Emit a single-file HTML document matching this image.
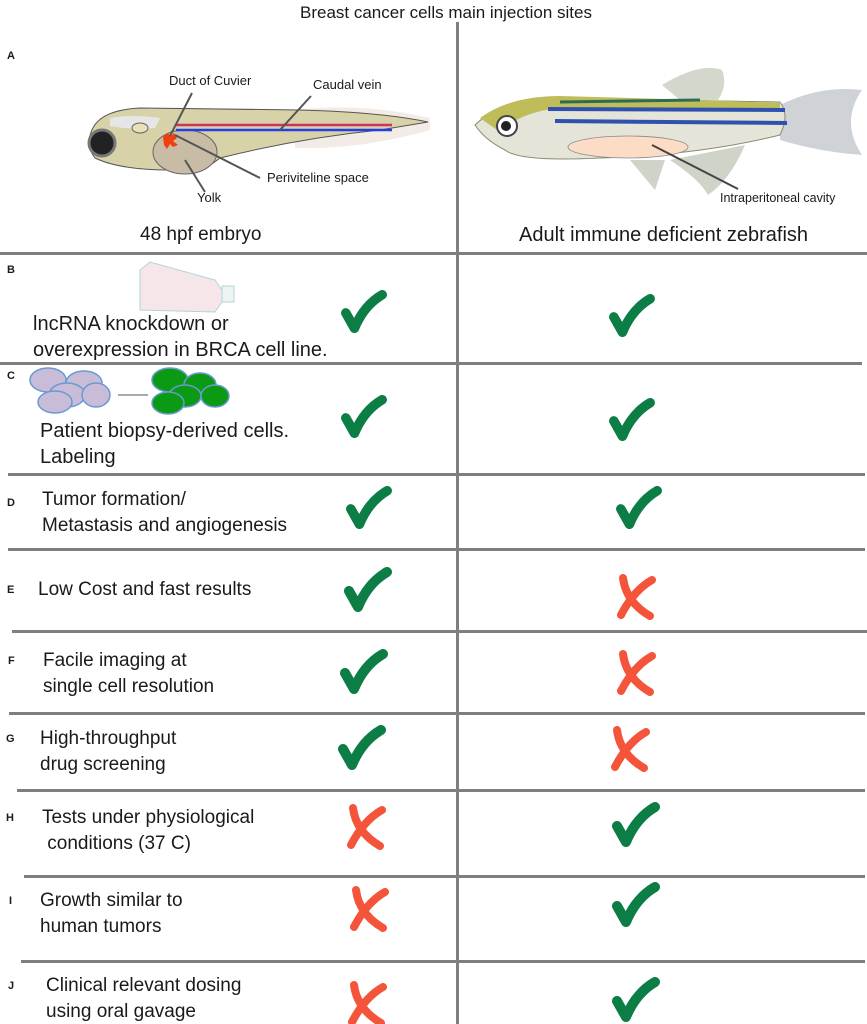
<!DOCTYPE html>
<html><head><meta charset="utf-8">
<style>
body{margin:0;background:#fff;}
#c{position:relative;width:867px;height:1024px;overflow:hidden;font-family:"Liberation Sans",sans-serif;color:#1a1a1a;}
.t{position:absolute;white-space:nowrap;font-size:19px;line-height:26px;}
.b{font-size:20px;}
.l{position:absolute;font-weight:bold;font-size:11px;}
.s{position:absolute;white-space:nowrap;font-size:13px;}
.h{position:absolute;background:#7f7f7f;height:3px;}
svg{position:absolute;left:0;top:0;}
</style></head><body><div id="c">
<svg width="867" height="1024" viewBox="0 0 867 1024">
<defs>
<symbol id="ck" viewBox="0 0 48 46"><path d="M5 24 L14 40 Q24 16 43 5" fill="none" stroke="#0b7d45" stroke-width="10" stroke-linecap="round" stroke-linejoin="round"/></symbol>
<symbol id="x" viewBox="0 0 40 46"><path d="M7 4 Q10 28 34 42 M36 6 Q18 16 5 41" fill="none" stroke="#f4553a" stroke-width="8" stroke-linecap="round"/></symbol>
</defs>
<rect x="456" y="22" width="3" height="1002" fill="#7f7f7f"/>
<!-- embryo -->
<path d="M295 110 Q360 102 430 118 L430 130 Q360 150 295 148 Z" fill="#f3ece6"/>
<path d="M92 130 Q100 110 140 108 L300 110 Q380 112 428 122 L380 130 Q300 138 220 158 Q200 175 170 170 Q120 170 95 158 Q85 145 92 130Z" fill="#d8d2a8" stroke="#555" stroke-width="1"/>
<ellipse cx="185" cy="152" rx="32" ry="22" fill="#c8bca6" stroke="#666" stroke-width="1"/>
<path d="M110 118 Q130 114 160 118 L155 128 Q130 130 110 126Z" fill="#e6e6e6"/>
<ellipse cx="140" cy="128" rx="8" ry="5" fill="#e8e0b8" stroke="#666"/>
<circle cx="102" cy="143" r="13" fill="#222" stroke="#777" stroke-width="3"/>
<line x1="176" y1="125" x2="392" y2="125" stroke="#d0306a" stroke-width="2.5"/>
<line x1="176" y1="130" x2="392" y2="130" stroke="#2040e0" stroke-width="2.5"/>
<path d="M163 137 l4 -4 l4 3 l3 -3 l3 5 l-4 3 l5 4 l-5 2 l-3 -3 l-3 5 l-3 -4 Z" fill="#f04010"/>
<g stroke="#555" stroke-width="2">
<line x1="192" y1="93" x2="170" y2="136"/>
<line x1="311" y1="96" x2="280" y2="130"/>
<line x1="175" y1="135" x2="260" y2="178"/>
<line x1="185" y1="160" x2="205" y2="192"/>
</g>
<!-- adult fish -->
<path d="M662 85 Q700 62 722 70 Q728 85 718 100 L680 100Z" fill="#d4d8cc"/>
<path d="M780 105 Q820 85 862 90 Q840 122 862 155 Q820 152 780 140Z" fill="#cfd3d8"/>
<path d="M630 160 Q645 178 655 190 L665 160Z" fill="#cfd3c8"/>
<path d="M670 160 Q700 180 708 195 Q730 180 745 145Z" fill="#d0d4c8"/>
<path d="M475 125 Q500 100 560 98 L780 102 Q790 115 780 135 Q700 155 600 158 Q520 162 505 150 Q485 140 475 125Z" fill="#e4e4d8" stroke="#8a8a70" stroke-width="1"/>
<path d="M480 118 Q510 96 560 96 L700 100 L780 103 L780 110 L560 108 Q520 112 500 132 Z" fill="#bfbd5a"/>
<line x1="548" y1="109" x2="785" y2="110" stroke="#3050b0" stroke-width="4"/>
<line x1="555" y1="121" x2="787" y2="123" stroke="#3050b0" stroke-width="4"/>
<line x1="560" y1="102" x2="700" y2="100" stroke="#2e6b55" stroke-width="3"/>
<ellipse cx="628" cy="147" rx="60" ry="11" fill="#fcdcc4" stroke="#888" stroke-width="0.8"/>
<circle cx="507" cy="126" r="10" fill="#fff" stroke="#444" stroke-width="2"/>
<circle cx="506" cy="126" r="5" fill="#222"/>
<line x1="652" y1="145" x2="738" y2="189" stroke="#444" stroke-width="2"/>
<!-- flask -->
<path d="M140 270 L150 262 L215 280 L222 290 L222 302 L215 312 L140 310Z" fill="#f6e6ea" stroke="#b0d4d8"/>
<rect x="222" y="286" width="12" height="16" fill="#eef4f4" stroke="#b0d4d8"/>
<!-- cells -->
<g fill="#c8bcd8" stroke="#6a9ad0" stroke-width="1.5">
<ellipse cx="48" cy="380" rx="18" ry="12"/><ellipse cx="84" cy="383" rx="18" ry="12"/>
<ellipse cx="67" cy="395" rx="18" ry="12"/><ellipse cx="96" cy="395" rx="14" ry="12"/>
<ellipse cx="55" cy="402" rx="17" ry="11"/>
</g>
<line x1="118" y1="395" x2="148" y2="395" stroke="#aaa" stroke-width="2"/>
<g fill="#0a9a14" stroke="#6a9ad0" stroke-width="1.5">
<ellipse cx="170" cy="380" rx="18" ry="12"/><ellipse cx="200" cy="385" rx="16" ry="12"/>
<ellipse cx="185" cy="396" rx="16" ry="11"/><ellipse cx="215" cy="396" rx="14" ry="11"/>
<ellipse cx="168" cy="403" rx="16" ry="11"/>
</g>
<!-- checks / crosses -->
<use href="#ck" x="340" y="290" width="48" height="44"/>
<use href="#ck" x="608" y="294" width="48" height="44"/>
<use href="#ck" x="340" y="395" width="48" height="44"/>
<use href="#ck" x="608" y="398" width="48" height="44"/>
<use href="#ck" x="345" y="486" width="48" height="44"/>
<use href="#ck" x="615" y="486" width="48" height="44"/>
<use href="#ck" x="344" y="567" width="48" height="46"/>
<use href="#x" x="616" y="574" width="40" height="46"/>
<use href="#ck" x="340" y="649" width="48" height="46"/>
<use href="#x" x="616" y="650" width="40" height="46"/>
<use href="#ck" x="338" y="725" width="48" height="46"/>
<use href="#x" x="610" y="726" width="40" height="46"/>
<use href="#x" x="346" y="804" width="40" height="46"/>
<use href="#ck" x="612" y="802" width="48" height="46"/>
<use href="#x" x="349" y="886" width="40" height="46"/>
<use href="#ck" x="612" y="882" width="48" height="46"/>
<use href="#x" x="347" y="981" width="40" height="46"/>
<use href="#ck" x="612" y="977" width="48" height="46"/>
</svg>
<div class="h" style="left:0;top:252px;width:867px"></div>
<div class="h" style="left:0;top:362px;width:862px"></div>
<div class="h" style="left:8px;top:473px;width:857px"></div>
<div class="h" style="left:8px;top:548px;width:857px"></div>
<div class="h" style="left:12px;top:630px;width:855px"></div>
<div class="h" style="left:9px;top:712px;width:856px"></div>
<div class="h" style="left:17px;top:789px;width:848px"></div>
<div class="h" style="left:24px;top:875px;width:841px"></div>
<div class="h" style="left:21px;top:960px;width:844px"></div>

<div class="t" style="left:300px;top:0px;font-size:17px;">Breast cancer cells main injection sites</div>
<div class="l" style="left:7px;top:50px">A</div>
<div class="s" style="left:169px;top:73px">Duct of Cuvier</div>
<div class="s" style="left:313px;top:77px">Caudal vein</div>
<div class="s" style="left:267px;top:170px">Periviteline space</div>
<div class="s" style="left:197px;top:190px">Yolk</div>
<div class="s" style="left:720px;top:191px;font-size:12.5px">Intraperitoneal cavity</div>
<div class="t" style="left:140px;top:222px">48 hpf embryo</div>
<div class="t b" style="left:519px;top:222px">Adult immune deficient zebrafish</div>

<div class="l" style="left:7px;top:264px">B</div>
<div class="t b" style="left:33px;top:311px">lncRNA knockdown or<br>overexpression in BRCA cell line.</div>
<div class="l" style="left:7px;top:370px">C</div>
<div class="t b" style="left:40px;top:418px">Patient biopsy-derived cells.<br>Labeling</div>
<div class="l" style="left:7px;top:497px">D</div>
<div class="t" style="left:42px;top:487px">Tumor formation/<br>Metastasis and angiogenesis</div>
<div class="l" style="left:7px;top:584px">E</div>
<div class="t" style="left:38px;top:577px">Low Cost and fast results</div>
<div class="l" style="left:8px;top:655px">F</div>
<div class="t" style="left:43px;top:648px">Facile imaging at<br>single cell resolution</div>
<div class="l" style="left:6px;top:733px">G</div>
<div class="t" style="left:40px;top:726px">High-throughput<br>drug screening</div>
<div class="l" style="left:6px;top:812px">H</div>
<div class="t" style="left:42px;top:805px">Tests under physiological<br>&nbsp;conditions (37 C)</div>
<div class="l" style="left:9px;top:895px">I</div>
<div class="t" style="left:40px;top:888px">Growth similar to<br>human tumors</div>
<div class="l" style="left:8px;top:980px">J</div>
<div class="t" style="left:46px;top:973px">Clinical relevant dosing<br>using oral gavage</div>
</div></body></html>
